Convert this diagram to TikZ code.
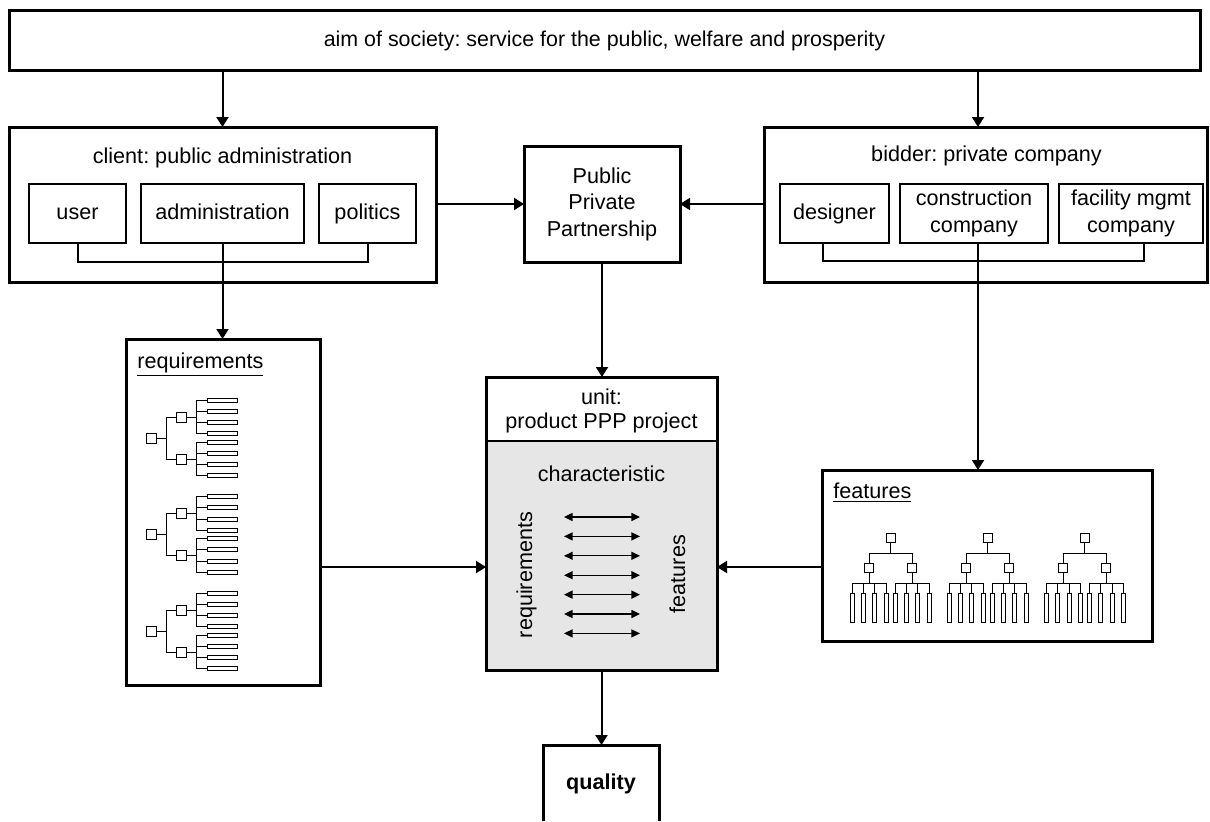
\documentclass[tikz,border=0pt]{standalone}
\usepackage{fontspec}
\setmainfont{Liberation Sans}
\usetikzlibrary{arrows.meta,backgrounds,calc}
\definecolor{unitgray}{HTML}{E6E6E6}
\frenchspacing
\begin{document}
\begin{tikzpicture}[x=0.5pt,y=-0.5pt,
  thickbox/.style={draw,line width=1.5pt,inner sep=0pt,outer sep=0pt,align=center,font=\fontsize{10.7}{13.25}\selectfont},
  subbox/.style={draw,line width=1pt,inner sep=0pt,outer sep=0pt,align=center,font=\fontsize{10.8}{13.5}\selectfont},
  oneline/.style={text height=0.8em,text depth=0.2em},
  lbl/.style={inner sep=0pt,font=\fontsize{10.8}{12}\selectfont,align=center},
  arr/.style={line width=1pt,-{Triangle[length=5pt,width=6pt]}},
  conn/.style={line width=1pt},
  dbl/.style={line width=0.65pt,{Triangle[length=4.3pt,width=4pt]}-{Triangle[length=4.3pt,width=4pt]}},
  tree/.style={line width=0.5pt}]
\useasboundingbox (0,0) rectangle (1210,821);

% top
\node[thickbox,oneline,minimum width=595.5pt,minimum height=30pt] (aim) at (604.5,40) {aim of society: service for the public, welfare and prosperity};

% client
\node[thickbox,minimum width=213.5pt,minimum height=77.5pt] (client) at (222.5,204.5) {};
\node[lbl,oneline] (clienttitle) at (222.5,157) {client: public administration};
\node[subbox,oneline,minimum width=48.5pt,minimum height=29.5pt] (user) at (77.5,213.5) {user};
\node[subbox,oneline,minimum width=81.5pt,minimum height=29.5pt] (admin) at (222.5,213.5) {administration};
\node[subbox,oneline,minimum width=48.5pt,minimum height=29.5pt] (politics) at (367.5,213.5) {politics};

% bidder
\node[thickbox,minimum width=221.5pt,minimum height=77.5pt] (bidder) at (985.5,204.5) {};
\node[lbl,oneline] (biddertitle) at (986.5,155) {bidder: private company};
\node[subbox,oneline,minimum width=54.5pt,minimum height=29.5pt] (designer) at (834.5,213.5) {designer};
\node[subbox,minimum width=74pt,minimum height=29.5pt] (construction) at (974,213.5) {construction\\company};
\node[subbox,minimum width=72pt,minimum height=29.5pt] (facility) at (1131,213.5) {facility mgmt\\company};

% PPP
\node[thickbox,minimum width=78pt,minimum height=58pt,font=\fontsize{10.8}{13.25}\selectfont] (ppp) at (602,204) {Public\\Private\\Partnership};

% unit
\node[thickbox,minimum width=115.5pt,minimum height=146.5pt] (unit) at (601.5,523.5) {};
\coordinate (div) at (0,441);
\begin{scope}[on background layer]
  \fill[unitgray] (unit.west |- div) rectangle (unit.south east);
\end{scope}
\draw[conn] (unit.west |- div) -- (unit.east |- div);
\node[lbl] (unittitle) at (601.5,411) {unit:\\product PPP project};
\node[lbl,oneline] (charlbl) at (601.5,475) {characteristic};
\node[lbl,oneline,rotate=90] (reqlbl) at (526,575) {requirements};
\node[lbl,oneline,rotate=90] (featlbl) at (679,574) {features};
\foreach \i in {0,...,6}{
  \draw[dbl] (564,{517+19.4*\i}) -- (640,{517+19.4*\i});
}

% requirements box
\node[thickbox,minimum width=97pt,minimum height=173pt] (req) at (223,512) {};
\node[lbl,oneline,anchor=west] (reqtitle) at (137,362) {\underline{requirements}};

% features box
\node[thickbox,minimum width=165pt,minimum height=85.5pt] (feat) at (987,555.5) {};
\node[lbl,oneline,anchor=west] (feattitle) at (833,492) {\underline{features}};

% quality
\node[inner sep=0pt,outer sep=0pt,oneline,minimum width=58pt,minimum height=38pt,font=\fontsize{10.8}{12}\selectfont\bfseries] (quality) at (601,783) {quality};
\draw[line width=1.5pt] (quality.south west) -- (quality.north west) -- (quality.north east) -- (quality.south east);

% connectors
\coordinate (cstem) at ([xshift=2pt]construction.south);
\draw[arr] (aim.south -| client.north) -- (client.north);
\draw[arr] (aim.south -| cstem) -- (bidder.north -| cstem);
\draw[conn] (user.south) -- ++(0,19) -| (politics.south);
\draw[arr] (admin.south) -- (admin.south |- req.north);
\draw[conn] ([xshift=-5.75pt]designer.south) -- ++(0,18) -| ([xshift=6.5pt]facility.south);
\draw[arr] (cstem) -- (cstem |- feat.north);
\draw[arr] (client.east |- ppp.west) -- (ppp.west);
\draw[arr] (bidder.west |- ppp.east) -- (ppp.east);
\draw[arr] (ppp.south) -- (ppp.south |- unit.north);
\coordinate (midy) at (0,567);
\draw[arr] (req.east |- midy) -- (unit.west |- midy);
\draw[arr] (feat.west |- midy) -- (unit.east |- midy);
\draw[arr] (unit.south) -- (unit.south |- quality.north);

% requirement trees
\foreach \R in {438,534.5,631}{
  \draw[tree] (146,{\R-5}) rectangle (156,{\R+5});
  \draw[tree] (156,\R) -- (166,\R);
  \draw[tree] (166,{\R-21}) -- (166,{\R+21});
  \foreach \s in {-1,1}{
    \pgfmathsetmacro\c{\R+21*\s}
    \draw[tree] (166,\c) -- (176,\c);
    \draw[tree] (176,{\c-5}) rectangle (186,{\c+5});
    \draw[tree] (186,\c) -- (196,\c);
    \draw[tree] (196,{\c-16.8}) -- (196,{\c+16.8});
    \foreach \o in {-16.8,-5.6,5.6,16.8}{
      \draw[tree] (196,{\c+\o}) -- (207,{\c+\o});
      \draw[tree] (207,{\c+\o-2}) rectangle (237,{\c+\o+2});
    }
  }
}

% feature trees
\foreach \R in {890.5,987.7,1084.8}{
  \draw[tree] ({\R-4.5},533) rectangle ({\R+4.5},542);
  \draw[tree] (\R,542) -- (\R,553);
  \draw[tree] ({\R-21.5},553) -- ({\R+21.5},553);
  \foreach \s in {-1,1}{
    \pgfmathsetmacro\c{\R+21.5*\s}
    \draw[tree] (\c,553) -- (\c,563);
    \draw[tree] ({\c-4.5},563) rectangle ({\c+4.5},572);
    \draw[tree] (\c,572) -- (\c,583);
    \draw[tree] ({\c-17},583) -- ({\c+17},583);
    \foreach \o in {-17,-5.7,5.7,17}{
      \draw[tree] ({\c+\o},583) -- ({\c+\o},593);
      \draw[tree] ({\c+\o-2},593) rectangle ({\c+\o+2},622);
    }
  }
}
\end{tikzpicture}
\end{document}
